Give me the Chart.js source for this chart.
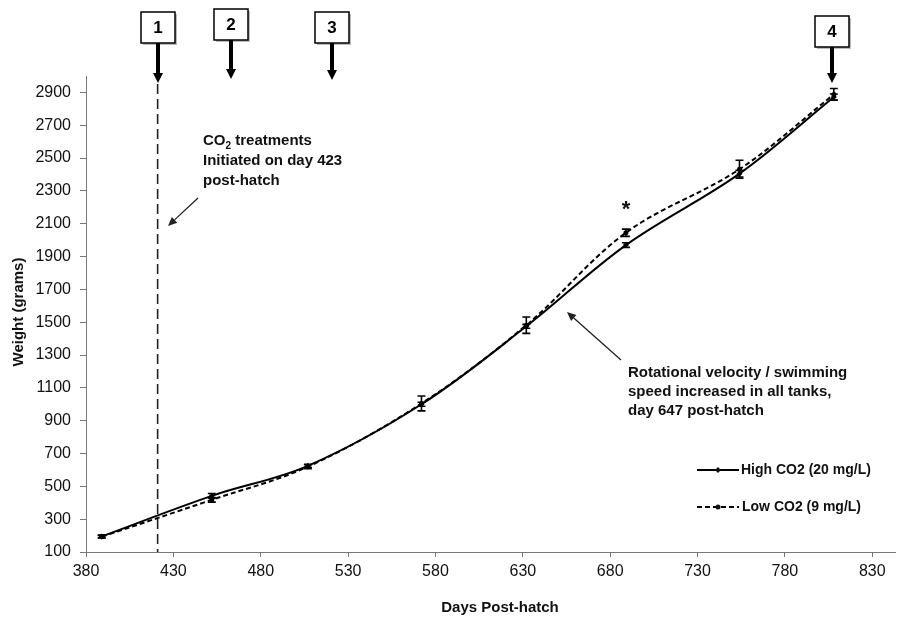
<!DOCTYPE html>
<html><head><meta charset="utf-8">
<script src="https://cdn.jsdelivr.net/npm/chart.js@4.4.1/dist/chart.umd.min.js"></script>
<style>html,body{margin:0;padding:0;background:#fff}canvas{display:block}</style>
</head><body>
<canvas id="c" width="904" height="620"></canvas>
<script>
// ---- data ----
const days    = [389, 452, 507, 572, 632, 689, 754, 808];
const highCO2 = [195, 442, 625, 1000, 1475, 1970, 2405, 2872];
const lowCO2  = [193, 418, 620, 1005, 1482, 2045, 2432, 2888];
const highErr = [8, 14, 10, 12, 12, 14, 20, 18];
const lowErr  = [8, 14, 12, 45, 50, 22, 55, 36];
const xTicks  = [380, 430, 480, 530, 580, 630, 680, 730, 780, 830];
const yTicks  = [100, 300, 500, 700, 900, 1100, 1300, 1500, 1700, 1900, 2100, 2300, 2500, 2700, 2900];
const markerDays   = [421, 463, 521, 807];
const markerLabels = ['1', '2', '3', '4'];
const treatmentDay = 421;
const seriesNames  = ['High CO2 (20 mg/L)', 'Low CO2 (9 mg/L)'];

const FONT = "'Liberation Sans', Arial, Helvetica, sans-serif";

function toPts(xs, ys){ return xs.map((x,i)=>({x:x, y:ys[i]})); }

function arrowThin(ctx, x1, y1, x2, y2){
  ctx.save();
  ctx.strokeStyle = '#222'; ctx.fillStyle = '#222'; ctx.lineWidth = 1.3;
  const a = Math.atan2(y2-y1, x2-x1), h = 9, w = 4;
  const bx = x2 - h*Math.cos(a), by = y2 - h*Math.sin(a);
  ctx.beginPath(); ctx.moveTo(x1,y1); ctx.lineTo(bx,by); ctx.stroke();
  ctx.beginPath();
  ctx.moveTo(x2,y2);
  ctx.lineTo(bx + w*Math.sin(a), by - w*Math.cos(a));
  ctx.lineTo(bx - w*Math.sin(a), by + w*Math.cos(a));
  ctx.closePath(); ctx.fill();
  ctx.restore();
}

const overlay = {
  id: 'overlay',
  afterDatasetsDraw(chart){
    const ctx = chart.ctx, xs = chart.scales.x, ys = chart.scales.y;
    ctx.save();
    ctx.strokeStyle = '#000'; ctx.lineWidth = 1.6;
    const bars = (vals, errs) => {
      vals.forEach((v,i)=>{
        const x = xs.getPixelForValue(days[i]);
        const yt = ys.getPixelForValue(v + errs[i]);
        const yb = ys.getPixelForValue(v - errs[i]);
        ctx.beginPath();
        ctx.moveTo(x, yt); ctx.lineTo(x, yb);
        ctx.moveTo(x-4, yt); ctx.lineTo(x+4, yt);
        ctx.moveTo(x-4, yb); ctx.lineTo(x+4, yb);
        ctx.stroke();
      });
    };
    bars(highCO2, highErr);
    bars(lowCO2, lowErr);
    ctx.restore();
  },
  afterDraw(chart){
    const ctx = chart.ctx, xs = chart.scales.x, ys = chart.scales.y, area = chart.chartArea;
    ctx.save();
    // dashed treatment line
    const tx = xs.getPixelForValue(treatmentDay);
    ctx.strokeStyle = '#222'; ctx.lineWidth = 1.6; ctx.setLineDash([10,5]);
    ctx.beginPath(); ctx.moveTo(tx, 84); ctx.lineTo(tx, area.bottom); ctx.stroke();
    ctx.setLineDash([]);

    // numbered boxes with block arrows
    const boxTops = [12, 9, 12, 16];
    const tips    = [83, 79, 80, 83];
    markerDays.forEach((d,i)=>{
      const x = Math.round(xs.getPixelForValue(d));
      const bw = 34, bh = 31, top = boxTops[i];
      ctx.fillStyle = '#bbb';
      ctx.fillRect(x - bw/2 + 2, top + 2, bw, bh);
      ctx.fillStyle = '#fff';
      ctx.fillRect(x - bw/2, top, bw, bh);
      ctx.strokeStyle = '#000'; ctx.lineWidth = 1.5;
      ctx.strokeRect(x - bw/2, top, bw, bh);
      ctx.fillStyle = '#000';
      ctx.font = 'bold 17px ' + FONT;
      ctx.textAlign = 'center'; ctx.textBaseline = 'middle';
      ctx.fillText(markerLabels[i], x, top + bh/2 + 1);
      const tip = tips[i];
      ctx.fillRect(x - 2, top + bh, 4, tip - 9 - (top + bh));
      ctx.beginPath();
      ctx.moveTo(x - 5, tip - 10); ctx.lineTo(x + 5, tip - 10); ctx.lineTo(x, tip);
      ctx.closePath(); ctx.fill();
    });

    // annotation 1
    ctx.fillStyle = '#111';
    ctx.textAlign = 'left'; ctx.textBaseline = 'middle';
    ctx.font = 'bold 15px ' + FONT;
    ctx.fillText('CO', 203, 141);
    let w = ctx.measureText('CO').width;
    ctx.font = 'bold 10px ' + FONT;
    ctx.fillText('2', 203 + w, 146);
    let w2 = ctx.measureText('2').width;
    ctx.font = 'bold 15px ' + FONT;
    ctx.fillText(' treatments', 203 + w + w2, 141);
    ctx.fillText('Initiated on day 423', 203, 161);
    ctx.fillText('post-hatch', 203, 181);
    arrowThin(ctx, 198, 198, 168, 226);

    // annotation 2
    ctx.fillText('Rotational velocity / swimming', 628, 373);
    ctx.fillText('speed increased in all tanks,', 628, 392);
    ctx.fillText('day 647 post-hatch', 628, 411);
    arrowThin(ctx, 621, 360, 567, 312);

    // asterisk
    ctx.textAlign = 'center';
    ctx.font = 'bold 22px ' + FONT;
    ctx.fillText('*', xs.getPixelForValue(days[5]), 210);

    // legend
    const ly = [470, 507];
    ctx.strokeStyle = '#000'; ctx.lineWidth = 2;
    ctx.beginPath(); ctx.moveTo(697, ly[0]); ctx.lineTo(739, ly[0]); ctx.stroke();
    ctx.beginPath(); ctx.moveTo(718, ly[0]-3); ctx.lineTo(721, ly[0]); ctx.lineTo(718, ly[0]+3); ctx.lineTo(715, ly[0]); ctx.closePath(); ctx.fill();
    ctx.setLineDash([5,3]);
    ctx.beginPath(); ctx.moveTo(697, ly[1]); ctx.lineTo(739, ly[1]); ctx.stroke();
    ctx.setLineDash([]);
    ctx.beginPath(); ctx.arc(718, ly[1], 2.5, 0, Math.PI*2); ctx.fill();
    ctx.font = 'bold 14px ' + FONT;
    ctx.textAlign = 'left';
    ctx.fillText(seriesNames[0], 741, ly[0]);
    ctx.fillText(seriesNames[1], 742, ly[1]);

    // axis titles
    ctx.font = 'bold 15px ' + FONT;
    ctx.textAlign = 'center';
    ctx.fillText('Days Post-hatch', 500, 608);
    ctx.save();
    ctx.translate(19, 312); ctx.rotate(-Math.PI/2);
    ctx.fillText('Weight (grams)', 0, 0);
    ctx.restore();
    ctx.restore();
  }
};

new Chart(document.getElementById('c'), {
  type: 'line',
  data: {
    datasets: [
      { label: seriesNames[0], data: toPts(days, highCO2), borderColor: '#000', backgroundColor: '#000',
        borderWidth: 2, tension: 0.35, pointStyle: 'rectRot', pointRadius: 3, pointBorderWidth: 0, fill: false },
      { label: seriesNames[1], data: toPts(days, lowCO2), borderColor: '#000', backgroundColor: '#000',
        borderWidth: 2, borderDash: [5,3], tension: 0.35, pointStyle: 'circle', pointRadius: 2.5, pointBorderWidth: 0, fill: false }
    ]
  },
  options: {
    responsive: false, animation: false, devicePixelRatio: 1,
    layout: { padding: { top: 76, right: 9, left: 0, bottom: 0 } },
    plugins: { legend: { display: false }, tooltip: { enabled: false } },
    scales: {
      x: {
        type: 'linear', min: 380, max: 843,
        afterBuildTicks: s => { s.ticks = xTicks.map(v => ({ value: v })); },
        afterFit: s => { s.height = 68; },
        grid: { drawOnChartArea: false, tickLength: 5, color: '#777' },
        border: { color: '#777', width: 1 },
        ticks: { color: '#111', font: { family: FONT, size: 16 }, padding: 5, maxRotation: 0, autoSkip: false,
                 callback: v => String(v) }
      },
      y: {
        type: 'linear', min: 100, max: 3000,
        afterBuildTicks: s => { s.ticks = yTicks.map(v => ({ value: v })); },
        afterFit: s => { s.width = 86; },
        grid: { drawOnChartArea: false, tickLength: 6, color: '#777' },
        border: { color: '#777', width: 1 },
        ticks: { color: '#111', font: { family: FONT, size: 16 }, padding: 9, autoSkip: false,
                 callback: v => String(v) }
      }
    }
  },
  plugins: [overlay]
});
</script>
</body></html>
